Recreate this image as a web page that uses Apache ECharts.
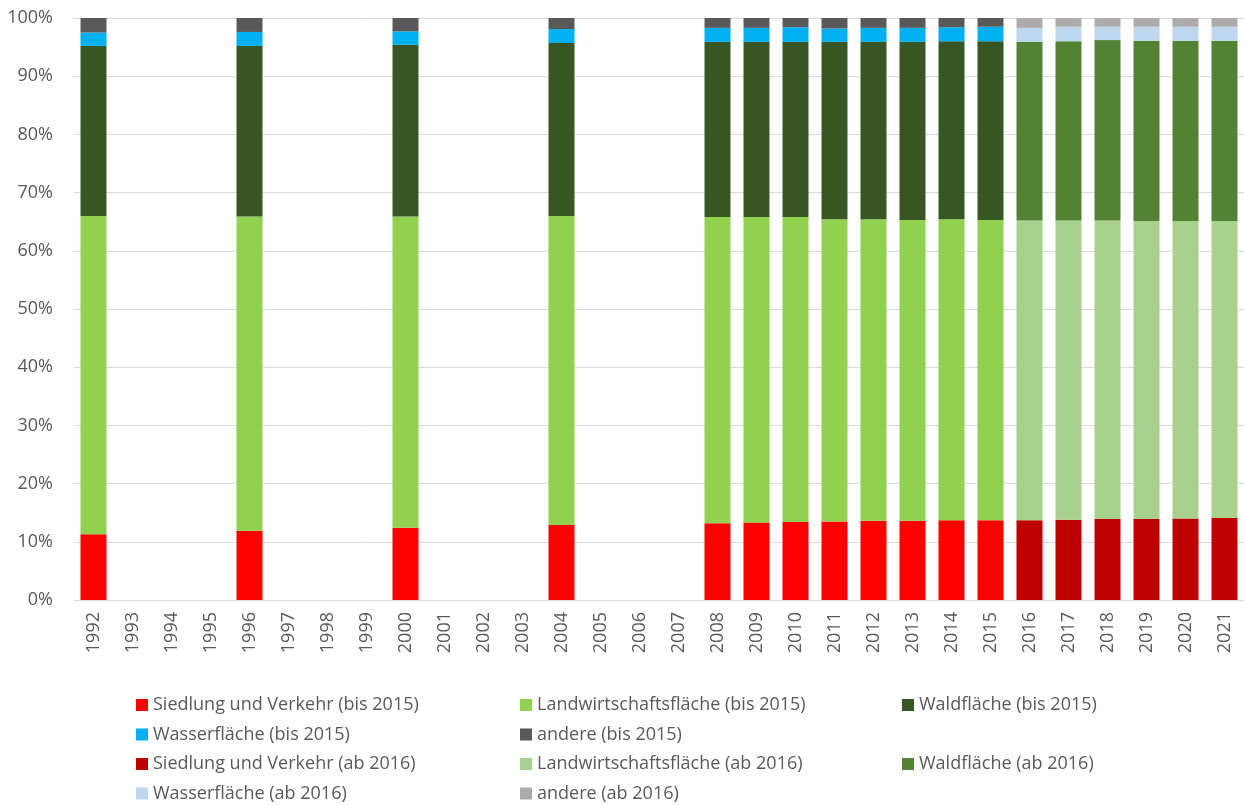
<!DOCTYPE html>
<html>
<head>
<meta charset="utf-8">
<script src="https://cdn.jsdelivr.net/npm/echarts@6/dist/echarts.min.js"></script>
<style>
  html, body { margin: 0; padding: 0; background: #fff; }
  #root { width: 1244px; height: 805px; }
</style>
</head>
<body>
<div id="root"></div>
<script>
var years = ['1992','1993','1994','1995','1996','1997','1998','1999','2000','2001','2002','2003','2004','2005','2006','2007',
	'2008','2009','2010','2011','2012','2013','2014','2015','2016','2017','2018','2019','2020','2021'];

// shares in percent, '-' = no data for that year
var siedlungBis = [11.3,'-','-','-',11.9,'-','-','-',12.4,'-','-','-',12.9,'-','-','-',13.2,13.3,13.4,13.5,13.6,13.6,13.7,13.7,'-','-','-','-','-','-'];
var landwBis    = [54.7,'-','-','-',54.0,'-','-','-',53.5,'-','-','-',53.1,'-','-','-',52.6,52.5,52.4,51.9,51.8,51.7,51.7,51.6,'-','-','-','-','-','-'];
var waldBis     = [29.2,'-','-','-',29.3,'-','-','-',29.5,'-','-','-',29.7,'-','-','-',30.1,30.1,30.1,30.5,30.5,30.6,30.6,30.7,'-','-','-','-','-','-'];
var wasserBis   = [2.3,'-','-','-',2.4,'-','-','-',2.3,'-','-','-',2.4,'-','-','-',2.4,2.4,2.5,2.3,2.4,2.4,2.4,2.5,'-','-','-','-','-','-'];
var andereBis   = [2.5,'-','-','-',2.4,'-','-','-',2.3,'-','-','-',1.9,'-','-','-',1.7,1.7,1.6,1.8,1.7,1.7,1.6,1.5,'-','-','-','-','-','-'];

var pad = ['-','-','-','-','-','-','-','-','-','-','-','-','-','-','-','-','-','-','-','-','-','-','-','-'];
var siedlungAb = pad.concat([13.7,13.8,13.9,13.9,14.0,14.1]);
var landwAb    = pad.concat([51.5,51.4,51.3,51.2,51.1,51.0]);
var waldAb     = pad.concat([30.7,30.8,31.0,31.0,31.0,31.0]);
var wasserAb   = pad.concat([2.4,2.5,2.3,2.4,2.4,2.4]);
var andereAb   = pad.concat([1.7,1.5,1.5,1.5,1.5,1.5]);

var names = ['Siedlung und Verkehr (bis 2015)','Landwirtschaftsfläche (bis 2015)','Waldfläche (bis 2015)','Wasserfläche (bis 2015)','andere (bis 2015)',
	'Siedlung und Verkehr (ab 2016)','Landwirtschaftsfläche (ab 2016)','Waldfläche (ab 2016)','Wasserfläche (ab 2016)','andere (ab 2016)'];
var values = [siedlungBis, landwBis, waldBis, wasserBis, andereBis, siedlungAb, landwAb, waldAb, wasserAb, andereAb];
var colors = ['#FF0000','#92D050','#375623','#00B0F0','#595959','#C00000','#A9D18E','#548235','#BDD7EE','#AEAAAA'];

var chart = echarts.init(document.getElementById('root'));

var series = names.map(function (n, i) {
	return {
		name: n,
		type: 'bar',
		stack: 'total',
		barWidth: 26,
		data: values[i],
		itemStyle: { color: colors[i] }
	};
});

var font = 'Open Sans, sans-serif';
function legendAt(left, top, data) {
	return {
		orient: 'vertical', left: left, top: top, data: data,
		padding: 0, itemWidth: 12, itemHeight: 12, itemGap: 9.5, icon: 'rect',
		textStyle: { fontFamily: font, fontSize: 18, lineHeight: 20, color: '#595959' },
		selectedMode: false
	};
}

var option = {
	animation: false,
	color: colors,
	grid: { left: 74, top: 18, width: 1174, height: 582 },
	legend: [
		legendAt(136, 695, [names[0], names[3], names[5], names[8]]),
		legendAt(520, 695, [names[1], names[4], names[6], names[9]]),
		legendAt(902, 695, [names[2]]),
		legendAt(902, 754, [names[7]])
	],
	xAxis: {
		type: 'category',
		data: years,
		axisLine: { lineStyle: { color: '#d9d9d9', width: 1 } },
		axisTick: { show: false },
		axisLabel: { rotate: 90, interval: 0, fontFamily: font, fontSize: 18, color: '#595959', margin: 12 }
	},
	yAxis: {
		type: 'value',
		min: 0, max: 100, interval: 10,
		axisLabel: { formatter: '{value}%', fontFamily: font, fontSize: 18, color: '#595959', margin: 21 },
		splitLine: { lineStyle: { color: '#d9d9d9', width: 1 } },
		axisLine: { show: false },
		axisTick: { show: false }
	},
	series: series
};

chart.setOption(option);
</script>
</body>
</html>
